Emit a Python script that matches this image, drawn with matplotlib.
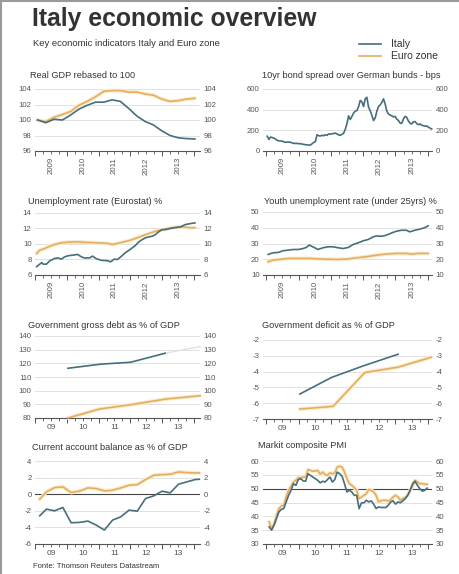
import numpy as np
import matplotlib
matplotlib.use("Agg")
import matplotlib.pyplot as plt
from matplotlib.lines import Line2D

plt.rcParams['font.family'] = ['Liberation Sans', 'DejaVu Sans']
plt.rcParams['axes.unicode_minus'] = False

# ---------------- data ----------------
# Real GDP rebased to 100 (quarterly)
gdp_dates = np.linspace(2009.07, 2014.04, 20)
gdp_italy = [100.0, 99.65, 100.1, 100.0, 100.65, 101.4, 101.9, 102.3, 102.3, 102.6,
             102.4, 101.5, 100.5, 99.8, 99.35, 98.6, 98.0, 97.7, 97.6, 97.55]
gdp_euro = [100.0, 99.8, 100.35, 100.7, 101.1, 101.9, 102.4, 103.0, 103.7, 103.8,
            103.8, 103.6, 103.6, 103.35, 103.2, 102.7, 102.4, 102.5, 102.7, 102.8]

# 10yr bond spread over German bunds (bps)
spread_values = [143, 112, 135, 130, 125, 115, 104, 98, 97, 96,
                 88, 84, 87, 86, 85, 78, 74, 73, 74, 70,
                 71, 67, 64, 61, 60, 57, 58, 70, 83, 90,
                 158, 148, 145, 152, 148, 158, 152, 165, 162, 168,
                 168, 174, 165, 155, 152, 162, 172, 210, 265, 340,
                 305, 335, 368, 385, 392, 430, 490, 475, 430, 505,
                 520, 425, 390, 345, 295, 320, 385, 432, 445, 470,
                 505, 455, 385, 358, 348, 340, 330, 335, 308, 295,
                 270, 268, 310, 335, 325, 290, 268, 262, 282, 285,
                 265, 255, 262, 250, 245, 240, 243, 230, 222, 213]
spread_dates = np.linspace(2009.03, 2014.12, len(spread_values))

# Unemployment rate (Eurostat) %
unemp_it_dates = [2009.04, 2009.14, 2009.20, 2009.25, 2009.35, 2009.46, 2009.61, 2009.72, 2009.82, 2009.93,
                  2010.03, 2010.19, 2010.34, 2010.45, 2010.55, 2010.71, 2010.81, 2010.91, 2011.07, 2011.28,
                  2011.38, 2011.49, 2011.59, 2011.70, 2011.85, 2012.01, 2012.17, 2012.27, 2012.38, 2012.48,
                  2012.58, 2012.69, 2012.79, 2012.89, 2013.00, 2013.10, 2013.26, 2013.41, 2013.58, 2013.73,
                  2013.89, 2014.04]
unemp_it = [7.07, 7.4, 7.6, 7.4, 7.4, 7.84, 8.14, 8.2, 8.05, 8.35,
            8.48, 8.57, 8.65, 8.35, 8.2, 8.2, 8.44, 8.14, 7.9, 7.84,
            7.7, 8.05, 8.0, 8.35, 8.9, 9.34, 9.85, 10.28, 10.58, 10.8,
            10.92, 11.0, 11.2, 11.56, 11.86, 11.86, 12.0, 12.1, 12.2, 12.5,
            12.63, 12.72]
unemp_ez_dates = [2009.04, 2009.14, 2009.30, 2009.46, 2009.61, 2009.82, 2010.03, 2010.34, 2010.66, 2010.97,
                  2011.28, 2011.44, 2011.59, 2011.80, 2012.01, 2012.22, 2012.43, 2012.64, 2012.84, 2013.05,
                  2013.26, 2013.47, 2013.68, 2013.89, 2014.04]
unemp_ez = [8.78, 9.2, 9.42, 9.72, 9.94, 10.15, 10.24, 10.28, 10.2, 10.15,
            10.07, 9.94, 10.07, 10.28, 10.5, 10.8, 11.13, 11.43, 11.7, 11.86,
            12.07, 12.2, 12.2, 12.1, 12.1]

# Youth unemployment rate (under 25yrs) %
youth_it_dates = [2009.06, 2009.21, 2009.37, 2009.52, 2009.68, 2009.83, 2009.99, 2010.14, 2010.24, 2010.33,
                  2010.40, 2010.50, 2010.60, 2010.76, 2010.91, 2011.07, 2011.22, 2011.38, 2011.54, 2011.69,
                  2011.84, 2012.00, 2012.15, 2012.31, 2012.41, 2012.57, 2012.67, 2012.77, 2012.88, 2013.03,
                  2013.18, 2013.34, 2013.44, 2013.60, 2013.75, 2013.91, 2014.01]
youth_it = [23.05, 24.1, 24.3, 25.4, 25.8, 26.2, 26.2, 26.8, 27.5, 29.0,
            28.3, 27.3, 26.2, 27.3, 27.9, 27.9, 27.3, 26.8, 27.5, 29.4,
            30.4, 31.7, 32.5, 34.2, 34.8, 34.6, 35.0, 35.7, 36.7, 37.8,
            38.4, 38.4, 37.4, 38.4, 39.1, 40.1, 41.2]
youth_ez_dates = [2009.06, 2009.21, 2009.42, 2009.68, 2009.93, 2010.35, 2010.76, 2011.17, 2011.48, 2011.79,
                  2012.10, 2012.41, 2012.72, 2013.03, 2013.34, 2013.49, 2013.70, 2014.01]
youth_ez = [18.4, 19.5, 19.9, 20.5, 20.5, 20.5, 20.1, 19.9, 20.1, 20.9,
            21.6, 22.6, 23.3, 23.7, 23.7, 23.3, 23.7, 23.7]

# Government gross debt as % of GDP (annual)
debt_dates = [2010.03, 2011.07, 2012.01, 2013.10]
debt_it = [116.4, 119.4, 120.8, 127.4]
debt_it_fc_dates = [2013.10, 2014.20]
debt_it_fc = [127.4, 132.2]
debt_ez_dates = [2010.03, 2011.03, 2012.01, 2013.10, 2014.20]
debt_ez = [80.0, 86.6, 89.7, 93.8, 96.3]

# Government deficit as % of GDP (annual)
deficit_it_dates = [2010.04, 2011.02, 2012.00, 2013.08]
deficit_it = [-5.42, -4.37, -3.64, -2.9]
deficit_ez_dates = [2010.04, 2011.07, 2012.05, 2013.08, 2014.11]
deficit_ez = [-6.37, -6.2, -4.06, -3.72, -3.09]

# Current account balance as % of GDP (quarterly)
ca_dates = [2009.14, 2009.35, 2009.61, 2009.87, 2010.13, 2010.39, 2010.66, 2010.92, 2011.18, 2011.44,
            2011.70, 2011.96, 2012.22, 2012.48, 2012.74, 2013.00, 2013.26, 2013.52, 2013.78, 2014.04, 2014.18]
ca_it = [-2.6, -1.8, -2.0, -1.6, -3.44, -3.4, -3.24, -3.72, -4.32, -3.12,
         -2.72, -1.92, -2.04, -0.52, -0.2, 0.36, 0.16, 1.2, 1.48, 1.76, 1.8]
ca_ez = [-0.6, 0.28, 0.8, 0.88, 0.2, 0.36, 0.76, 0.68, 0.4, 0.48,
         0.76, 1.08, 1.16, 1.76, 2.28, 2.36, 2.4, 2.68, 2.6, 2.56, 2.56]

# Markit composite PMI (monthly)
pmi_it = [36.2, 35.0, 36.8, 39.2, 41.6, 42.5, 42.8, 45.2, 47.6, 49.4,
          51.8, 51.2, 53.3, 53.6, 52.8, 52.7, 55.4, 54.8, 54.2, 53.6,
          53.0, 52.1, 52.7, 52.4, 53.3, 54.2, 52.4, 53.3, 56.0, 55.4,
          54.5, 51.8, 48.8, 49.4, 48.8, 47.6, 47.6, 42.8, 44.9, 44.9,
          45.8, 45.2, 45.6, 44.4, 42.8, 43.4, 43.2, 43.2, 43.2, 44.0,
          45.2, 45.6, 44.4, 45.2, 44.9, 45.6, 46.4, 47.6, 49.4, 51.8,
          52.7, 51.2, 50.0, 49.1, 49.4, 50.2]
pmi_ez = [38.0, 35.6, 37.1, 40.1, 42.8, 43.7, 44.0, 47.0, 49.4, 50.9,
          52.4, 53.0, 54.0, 53.9, 54.2, 54.2, 56.9, 56.6, 56.3, 56.4,
          56.6, 55.2, 56.0, 55.1, 54.8, 55.7, 55.4, 55.7, 57.8, 58.1,
          57.8, 56.0, 53.6, 51.8, 51.2, 50.4, 49.4, 46.4, 47.0, 47.6,
          48.2, 49.7, 49.4, 48.8, 47.6, 45.2, 45.6, 45.8, 45.8, 45.5,
          46.0, 47.0, 47.6, 47.0, 45.8, 46.4, 46.8, 47.6, 49.4, 50.9,
          53.0, 52.4, 51.8, 51.8, 51.6, 51.6]
pmi_dates = np.linspace(2009.09, 2013.98, len(pmi_it))

years = [2009, 2010, 2011, 2012, 2013]
year_labels_long = ['2009', '2010', '2011', '2012', '2013']
year_labels_short = ['09', '10', '11', '12', '13']

# ---------------- style ----------------
C_IT = '#466e7c'
C_EZ = '#e6ad5e'
C_HALO = '#f8ecce'
C_TXT = '#333333'
C_TICK = '#555555'
W, H = 460, 574

fig = plt.figure(figsize=(W / 100, H / 100), dpi=100)
fig.patch.set_facecolor('white')


def make_ax(x0, x1, top, bottom):
    return fig.add_axes([x0 / W, 1 - bottom / H, (x1 - x0) / W, (bottom - top) / H])


def style(ax, xlim, ylim, yticks, labels, rotate):
    ax.set_xlim(*xlim)
    ax.set_ylim(*ylim)
    ax.set_yticks(yticks)
    ax.yaxis.grid(True, color='#dcdcdc', lw=0.6)
    ax.set_axisbelow(True)
    for s in ['top', 'left', 'right']:
        ax.spines[s].set_visible(False)
    ax.spines['bottom'].set_color('#555555')
    ax.spines['bottom'].set_linewidth(0.8)
    ax.tick_params(axis='y', length=0, labelsize=5.6, colors=C_TICK,
                   labelleft=True, labelright=True, pad=2.5)
    ax.set_xticks(np.arange(2009, 2015))
    ax.set_xticklabels([])
    ax.set_xticks(np.arange(2009, 2014.2, 0.25), minor=True)
    ax.tick_params(axis='x', which='major', length=3.5, width=0.7, color='#555555')
    ax.tick_params(axis='x', which='minor', length=2, width=0.6, color='#555555')
    for yv, lab in zip(years, labels):
        ax.annotate(lab, xy=(yv + 0.5, 0), xycoords=('data', 'axes fraction'),
                    xytext=(0, -4.5), textcoords='offset points',
                    ha='center', va='top', rotation=90 if rotate else 0,
                    fontsize=5.6 if rotate else 6, color=C_TICK)


def title(ax, x, y, text):
    fig.text(x / W, 1 - y / H, text, ha='left', va='center', fontsize=6.6, color=C_TXT)


def plot_ez(ax, x, y):
    ax.plot(x, y, color=C_HALO, lw=2.8, solid_capstyle='round', clip_on=False, zorder=2)
    return ax.plot(x, y, color=C_EZ, lw=1.2, clip_on=False, zorder=3)[0]


def plot_it(ax, x, y):
    return ax.plot(x, y, color=C_IT, lw=1.2, clip_on=False, zorder=4)[0]


XL = (2008.99, 2014.2)
XR = (2008.9, 2014.13)
LX0, LX1 = 35, 200
RX0, RX1 = 263, 432

# Row 1
ax1 = make_ax(LX0, LX1, 89, 151)
plot_ez(ax1, gdp_dates, gdp_euro)
l_it = plot_it(ax1, gdp_dates, gdp_italy)
style(ax1, XL, (96, 104), [96, 98, 100, 102, 104], year_labels_long, True)
title(ax1, 30, 75, 'Real GDP rebased to 100')

ax2 = make_ax(RX0, RX1, 89, 151)
plot_it(ax2, spread_dates, spread_values)
style(ax2, XR, (0, 600), [0, 200, 400, 600], year_labels_long, True)
title(ax2, 262, 75, '10yr bond spread over German bunds - bps')

# Row 2
ax3 = make_ax(LX0, LX1, 213, 275)
l_ez = plot_ez(ax3, unemp_ez_dates, unemp_ez)
plot_it(ax3, unemp_it_dates, unemp_it)
style(ax3, XL, (6, 14), [6, 8, 10, 12, 14], year_labels_long, True)
title(ax3, 28, 201, 'Unemployment rate (Eurostat) %')

ax4 = make_ax(RX0, RX1, 212, 275)
plot_ez(ax4, youth_ez_dates, youth_ez)
plot_it(ax4, youth_it_dates, youth_it)
style(ax4, XR, (10, 50), [10, 20, 30, 40, 50], year_labels_long, True)
title(ax4, 264, 201, 'Youth unemployment rate (under 25yrs) %')

# Row 3
ax5 = make_ax(LX0, LX1, 336, 418)
plot_ez(ax5, debt_ez_dates, debt_ez)
plot_it(ax5, debt_dates, debt_it)
ax5.plot(debt_it_fc_dates, debt_it_fc, color='#dde2e5', lw=1.0, clip_on=False, zorder=3)
style(ax5, XL, (80, 140), [80, 90, 100, 110, 120, 130, 140], year_labels_short, False)
title(ax5, 28, 325, 'Government gross debt as % of GDP')

ax6 = make_ax(RX0, RX1, 340, 419)
plot_ez(ax6, deficit_ez_dates, deficit_ez)
plot_it(ax6, deficit_it_dates, deficit_it)
style(ax6, XR, (-7, -2), [-7, -6, -5, -4, -3, -2], year_labels_short, False)
title(ax6, 262, 325, 'Government deficit as % of GDP')

# Row 4
ax7 = make_ax(LX0, LX1, 461, 544)
ax7.axhline(0, color='#444444', lw=0.8, zorder=1.5)
plot_ez(ax7, ca_dates, ca_ez)
plot_it(ax7, ca_dates, ca_it)
style(ax7, XL, (-6, 4), [-6, -4, -2, 0, 2, 4], year_labels_short, False)
title(ax7, 32, 448, 'Current account balance as % of GDP')

ax8 = make_ax(RX0, RX1, 461, 544)
ax8.axhline(50, color='#444444', lw=0.8, zorder=1.5)
plot_ez(ax8, pmi_dates, pmi_ez)
plot_it(ax8, pmi_dates, pmi_it)
style(ax8, XR, (30, 60), [30, 35, 40, 45, 50, 55, 60], year_labels_short, False)
title(ax8, 258, 446, 'Markit composite PMI')

# Headings
fig.text(32 / W, 1 - 19 / H, 'Italy economic overview', ha='left', va='center',
         fontsize=17.8, fontweight='bold', color=C_TXT)
fig.text(33 / W, 1 - 44 / H, 'Key economic indicators Italy and Euro zone', ha='left',
         va='center', fontsize=6.8, color=C_TXT)
fig.text(33 / W, 1 - 567 / H, 'Fonte: Thomson Reuters Datastream', ha='left',
         va='center', fontsize=5.5, color=C_TXT)

fig.legend([l_it, l_ez], ['Italy', 'Euro zone'], loc='upper left',
           bbox_to_anchor=(352 / W, 1 - 32 / H), frameon=False, fontsize=7.5,
           handlelength=2.1, handletextpad=0.9, labelspacing=0.2,
           labelcolor=C_TXT, borderpad=0.2)

# frame border (left and top)
fig.add_artist(Line2D([1.5 / W, 1.5 / W], [0, 1], transform=fig.transFigure,
                      color='#9a9a9a', lw=1.5))
fig.add_artist(Line2D([0, 1], [1 - 1 / H, 1 - 1 / H], transform=fig.transFigure,
                      color='#9a9a9a', lw=1.5))

fig.savefig('out.png', dpi=100, facecolor='white')
